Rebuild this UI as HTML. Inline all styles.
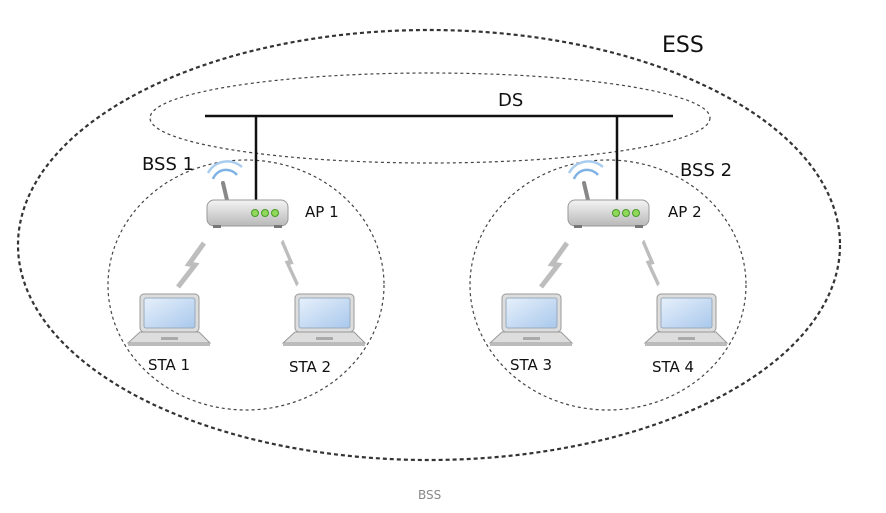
<!DOCTYPE html>
<html><head><meta charset="utf-8"><style>html,body{margin:0;padding:0;background:#fff}svg{display:block}text{font-family:"DejaVu Sans","Liberation Sans",sans-serif;fill:#111}</style></head>
<body>
<svg width="886" height="513" viewBox="0 0 886 513" xmlns="http://www.w3.org/2000/svg">
<defs>
<linearGradient id="rg" x1="0" y1="0" x2="0" y2="1"><stop offset="0" stop-color="#f4f4f4"/><stop offset="1" stop-color="#b8b8b8"/></linearGradient>
<linearGradient id="sg" x1="0" y1="0" x2="1" y2="1"><stop offset="0" stop-color="#e6f0fb"/><stop offset="1" stop-color="#a9c8ec"/></linearGradient>
<g id="router">
<path d="M20 0 L16 -17" stroke="#888" stroke-width="4" stroke-linecap="round"/>
<path d="M6 -21 A14 14 0 0 1 30 -25" stroke="#7fb3e6" stroke-width="2.5" fill="none"/>
<path d="M1 -27 A22 22 0 0 1 35 -33" stroke="#a9cdef" stroke-width="2.5" fill="none"/>
<rect x="0" y="0" width="81" height="26" rx="7" fill="url(#rg)" stroke="#999"/>
<rect x="6" y="25" width="8" height="3" fill="#777"/><rect x="67" y="25" width="8" height="3" fill="#777"/>
<circle cx="48" cy="13" r="3.5" fill="#8fd85a" stroke="#4a9a2a"/>
<circle cx="58" cy="13" r="3.5" fill="#8fd85a" stroke="#4a9a2a"/>
<circle cx="68" cy="13" r="3.5" fill="#8fd85a" stroke="#4a9a2a"/>
</g>
<g id="laptop">
<rect x="12" y="0" width="59" height="38" rx="4" fill="#ddd" stroke="#999"/>
<rect x="16" y="4" width="51" height="30" rx="2" fill="url(#sg)" stroke="#9ab"/>
<path d="M12 38 L71 38 L82 49 L0 49 Z" fill="#ddd" stroke="#999"/>
<rect x="0" y="49" width="82" height="3" fill="#bbb"/>
<rect x="33" y="43" width="17" height="3" fill="#aaa"/>
</g>
<path id="bolt" d="M0 0 L-15 21 L-9 22 L-26 44" fill="none" stroke="#bdbdbd" stroke-width="5" stroke-linejoin="miter"/>
</defs>
<ellipse cx="429" cy="245" rx="411" ry="215" fill="none" stroke="#333" stroke-width="2.2" stroke-dasharray="4 3"/>
<ellipse cx="430" cy="118" rx="280" ry="45" fill="none" stroke="#444" stroke-width="1.2" stroke-dasharray="3 3"/>
<ellipse cx="246" cy="285" rx="138" ry="125" fill="none" stroke="#444" stroke-width="1.2" stroke-dasharray="3 3"/>
<ellipse cx="608" cy="285" rx="138" ry="125" fill="none" stroke="#444" stroke-width="1.2" stroke-dasharray="3 3"/>
<line x1="205" y1="116" x2="673" y2="116" stroke="#111" stroke-width="2.5"/>
<line x1="256" y1="116" x2="256" y2="201" stroke="#111" stroke-width="2.5"/>
<line x1="617" y1="116" x2="617" y2="201" stroke="#111" stroke-width="2.5"/>
<use href="#router" x="207" y="200"/>
<use href="#router" x="568" y="200"/>
<use href="#bolt" transform="translate(204,243)"/>
<use href="#bolt" transform="translate(282,241) scale(-0.6,1)"/>
<use href="#bolt" transform="translate(567,243)"/>
<use href="#bolt" transform="translate(643,241) scale(-0.6,1)"/>
<use href="#laptop" x="128" y="294"/>
<use href="#laptop" x="283" y="294"/>
<use href="#laptop" x="490" y="294"/>
<use href="#laptop" x="645" y="294"/>
<text x="662" y="52" font-size="22">ESS</text>
<text x="498" y="106" font-size="18">DS</text>
<text x="142" y="170" font-size="18">BSS 1</text>
<text x="680" y="176" font-size="18">BSS 2</text>
<text x="305" y="217" font-size="15">AP 1</text>
<text x="668" y="217" font-size="15">AP 2</text>
<text x="148" y="370" font-size="15">STA 1</text>
<text x="289" y="372" font-size="15">STA 2</text>
<text x="510" y="370" font-size="15">STA 3</text>
<text x="652" y="372" font-size="15">STA 4</text>
<text x="418" y="499" font-size="12" style="fill:#888">BSS</text>
</svg>
</body></html>
